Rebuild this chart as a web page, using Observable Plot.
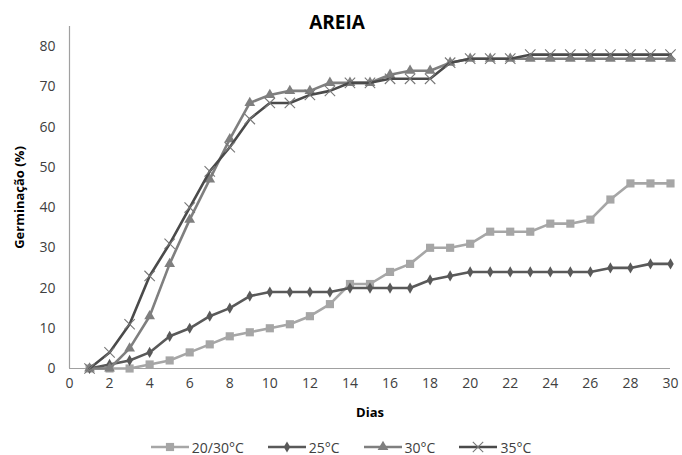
<!DOCTYPE html>
<html><head><meta charset="utf-8">
<script src="https://cdn.jsdelivr.net/npm/d3@7"></script>
<script src="https://cdn.jsdelivr.net/npm/@observablehq/plot@0.6"></script>
<style>
body{margin:0;background:#fff;font-family:"Open Sans",sans-serif;}
#wrap{position:relative;width:682px;height:455px;}
#title{position:absolute;left:0;width:674px;top:9px;text-align:center;font-weight:bold;font-size:19px;color:#000;}
#legend{position:absolute;left:0;width:682px;top:436px;height:22px;display:flex;justify-content:center;align-items:center;font-size:14px;color:#404040;}
.li{display:flex;align-items:center;margin:0 12px;}
.li svg{margin-right:3px;}
</style></head>
<body><div id="wrap"><div id="title">AREIA</div><div id="chart"></div><div id="legend"></div></div>
<script>
const days = d3.range(1, 31);
const s2030 = [0,0,0,1,2,4,6,8,9,10,11,13,16,21,21,24,26,30,30,31,34,34,34,36,36,37,42,46,46,46];
const s25   = [0,1,2,4,8,10,13,15,18,19,19,19,19,20,20,20,20,22,23,24,24,24,24,24,24,24,25,25,26,26];
const s30   = [0,0,5,13,26,37,47,57,66,68,69,69,71,71,71,73,74,74,76,77,77,77,77,77,77,77,77,77,77,77];
const s35   = [0,4,11,23,31,40,49,55,62,66,66,68,69,71,71,72,72,72,76,77,77,77,78,78,78,78,78,78,78,78];
const seriesNames = ["20/30°C","25°C","30°C","35°C"];
const xTicks = d3.range(0, 31, 2);
const yTicks = d3.range(0, 81, 10);

const lineColor = {"20/30°C":"#a6a6a6","25°C":"#595959","30°C":"#7f7f7f","35°C":"#4a4a4a"};
const markColor = {"20/30°C":"#a6a6a6","25°C":"#595959","30°C":"#7f7f7f","35°C":"#777777"};
const symbolOf = {"20/30°C":"square","25°C":"diamond","30°C":"triangle","35°C":"times"};
const rOf = {"20/30°C":4.6,"25°C":3.4,"30°C":4.0,"35°C":4.8};

const valuesArr = [s2030, s25, s30, s35];
const data = [];
seriesNames.forEach((s, i) => days.forEach((d, j) => data.push({series: s, day: d, value: valuesArr[i][j]})));

const marks = [
  Plot.ruleX([0], {stroke:"#a0a0a0", strokeWidth:1.2}),
  Plot.ruleY([0], {stroke:"#a0a0a0", strokeWidth:1.2})
];
seriesNames.forEach(s => {
  const sub = data.filter(d => d.series === s);
  marks.push(Plot.line(sub, {x:"day", y:"value", stroke: lineColor[s], strokeWidth: 2.6}));
  if (symbolOf[s] === "times") {
    marks.push(Plot.dot(sub, {x:"day", y:"value", symbol:"times", r: rOf[s], stroke: markColor[s], strokeWidth: 1.1}));
  } else {
    marks.push(Plot.dot(sub, {x:"day", y:"value", symbol: symbolOf[s], r: rOf[s], fill: markColor[s], stroke: "none"}));
  }
});

const chart = Plot.plot({
  width: 682, height: 434,
  marginLeft: 69, marginRight: 12, marginTop: 26, marginBottom: 66,
  style: {fontFamily: "'Open Sans', sans-serif", fontSize: "14px", color: "#404040", background: "#fff"},
  x: {domain: [0, 30], ticks: xTicks, tickSize: 0, tickPadding: 10, label: "Dias", labelAnchor: "center", labelArrow: "none", labelOffset: 48},
  y: {domain: [0, 85], ticks: yTicks, tickSize: 0, tickPadding: 14, label: "Germinação (%)", labelAnchor: "center", labelArrow: "none", labelOffset: 55},
  marks
});
d3.select(chart).selectAll("[aria-label='x-axis label'] text, [aria-label='y-axis label'] text")
  .style("font-weight", "bold").style("font-size", "13px").style("fill", "#000");
document.getElementById("chart").appendChild(chart);

// legend
const leg = d3.select("#legend");
seriesNames.forEach(s => {
  const item = leg.append("div").attr("class", "li");
  const svg = item.append("svg").attr("width", 38).attr("height", 14);
  svg.append("line").attr("x1", 0).attr("x2", 38).attr("y1", 7).attr("y2", 7).attr("stroke", lineColor[s]).attr("stroke-width", 2.6);
  const sym = d3.symbol().type({square: d3.symbolSquare, diamond: d3.symbolDiamond, triangle: d3.symbolTriangle, times: d3.symbolTimes}[symbolOf[s]]).size(Math.PI * rOf[s] * rOf[s]);
  const p = svg.append("path").attr("d", sym()).attr("transform", "translate(19,7)");
  if (symbolOf[s] === "times") p.attr("fill", "none").attr("stroke", markColor[s]).attr("stroke-width", 1.1);
  else p.attr("fill", markColor[s]);
  item.append("span").text(s);
});
</script></body></html>
